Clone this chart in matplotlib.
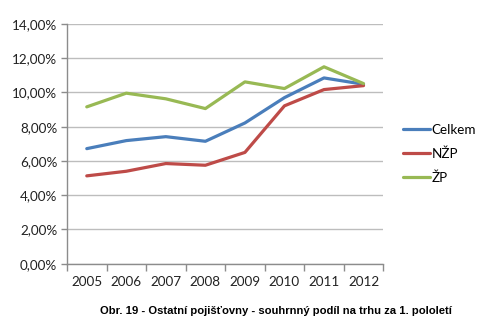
import matplotlib
matplotlib.use("Agg")
import matplotlib.pyplot as plt
from matplotlib.ticker import FixedLocator, FuncFormatter

years = ["2005", "2006", "2007", "2008", "2009", "2010", "2011", "2012"]
celkem = [6.72, 7.19, 7.42, 7.15, 8.22, 9.70, 10.85, 10.48]
nzp = [5.13, 5.40, 5.85, 5.75, 6.50, 9.22, 10.17, 10.40]
zp = [9.16, 9.96, 9.63, 9.06, 10.62, 10.23, 11.50, 10.52]
y_ticks = [0, 2, 4, 6, 8, 10, 12, 14]

fig = plt.figure(figsize=(4.85, 3.3), dpi=100)
ax = fig.add_axes([67 / 485, (330 - 263.7) / 330, (383.3 - 67) / 485, (263.7 - 24) / 330])

x = list(range(len(years)))
series = [("Celkem", celkem, "#4A7EBB"), ("NŽP", nzp, "#BE4B48"), ("ŽP", zp, "#98B954")]
for name, vals, col in series:
    ax.plot(x, vals, color=col, lw=2.3, label=name, solid_capstyle="round")

ax.set_xlim(-0.5, len(years) - 0.5)
ax.set_ylim(0, 14)
ax.set_yticks(y_ticks)
ax.yaxis.set_major_formatter(FuncFormatter(lambda v, p: f"{v:.2f}%".replace(".", ",")))
ax.set_xticks(x)
ax.set_xticklabels(years)
ax.xaxis.set_minor_locator(FixedLocator([i - 0.5 for i in range(len(years) + 1)]))
ax.tick_params(axis="x", which="major", length=0, pad=9)
ax.tick_params(axis="x", which="minor", length=5, color="#8C8C8C", width=1)
ax.tick_params(axis="y", length=4, color="#8C8C8C", width=1, pad=3)
font = "Lato"
for lbl in ax.get_xticklabels() + ax.get_yticklabels():
    lbl.set_fontfamily(font)
    lbl.set_fontsize(9.7)
    lbl.set_color("#222222")

ax.grid(axis="y", color="#BDBDBD", lw=1)
ax.set_axisbelow(True)
for s in ["top", "right"]:
    ax.spines[s].set_visible(False)
for s in ["left", "bottom"]:
    ax.spines[s].set_color("#8C8C8C")
    ax.spines[s].set_linewidth(1)

leg = fig.legend(loc="upper left", bbox_to_anchor=(391 / 485, 1 - 112 / 330),
                 frameon=False, prop={"family": font, "size": 9.7},
                 handlelength=2.0, handletextpad=0.1, labelspacing=0.85)

fig.text(276 / 485, 1 - 311 / 330,
         "Obr. 19 - Ostatní pojišťovny - souhrnný podíl na trhu za 1. pololetí",
         ha="center", va="center", fontsize=8.1, fontweight="bold",
         family="Liberation Sans")

fig.savefig("out.png", dpi=100)
